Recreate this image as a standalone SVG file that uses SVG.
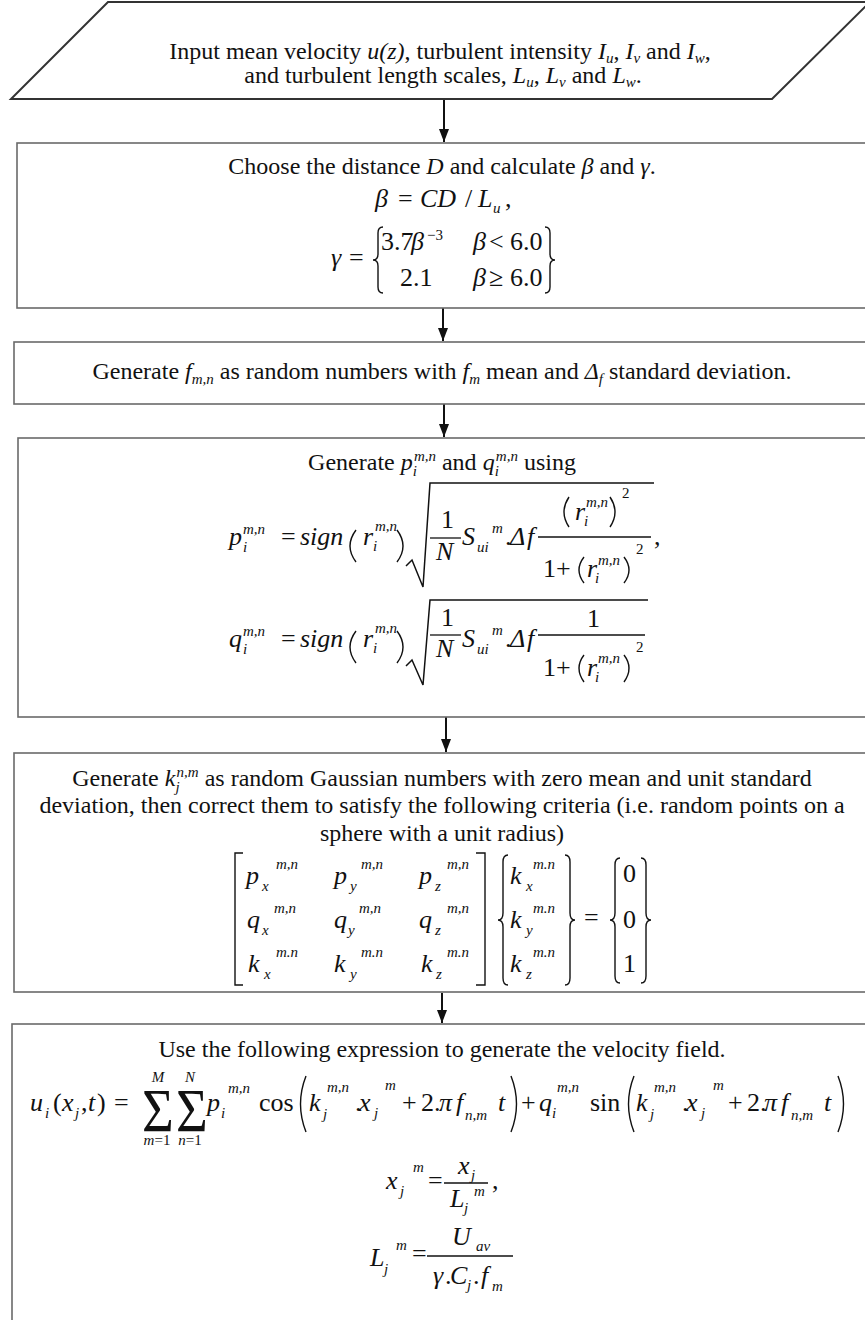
<svg xmlns="http://www.w3.org/2000/svg" width="865" height="1320" viewBox="0 0 865 1320">
<style>
.tx{font-family:"Liberation Serif","Times New Roman",serif;font-size:24px;fill:#111}
.mi{font-family:"Liberation Serif","Times New Roman",serif;font-size:26px;font-style:italic;fill:#111}
.mu{font-family:"Liberation Serif","Times New Roman",serif;font-size:26px;fill:#111}
.sig{font-family:"Liberation Serif","Times New Roman",serif;font-size:62px;fill:#111}
.sm{font-family:"Liberation Serif","Times New Roman",serif;font-size:15px;font-style:italic;fill:#111}
.smu{font-family:"Liberation Serif","Times New Roman",serif;font-size:15px;fill:#111}
.sb{font-size:15px;font-style:italic}
.s15{font-size:15px}
.it{font-style:italic}
.up{font-style:normal}
.box{fill:#fff;stroke:#6a6a6a;stroke-width:1.6}
.para{fill:#fff;stroke:#333;stroke-width:2}
.dl{fill:none;stroke:#111;stroke-width:1.4}
.bar{stroke:#111;stroke-width:1.3}
.rad{fill:none;stroke:#111;stroke-width:1.5}
.conn line{stroke:#111;stroke-width:2}
</style>
<defs>
<marker id="ah" markerUnits="userSpaceOnUse" markerWidth="13" markerHeight="10" refX="13" refY="5" orient="auto"><path d="M0,0 L13,5 L0,10 Z" fill="#111"/></marker>
</defs>
<rect width="865" height="1320" fill="#fff"/>

<g id="connectors" class="conn">
<line x1="444" y1="100" x2="444" y2="142" marker-end="url(#ah)"/>
<line x1="443" y1="308" x2="443" y2="341" marker-end="url(#ah)"/>
<line x1="444" y1="404" x2="444" y2="437" marker-end="url(#ah)"/>
<line x1="446" y1="717" x2="446" y2="752" marker-end="url(#ah)"/>
<line x1="442" y1="993" x2="442" y2="1023" marker-end="url(#ah)"/>
</g>

<g id="n1-input">
<polygon class="para" points="108,2 870,2 772,99 11,99"/>
<text class="tx" x="440" y="59" text-anchor="middle">Input mean velocity <tspan class="it">u(z)</tspan>, turbulent intensity <tspan class="it">I</tspan><tspan class="sb" dy="4">u</tspan><tspan dy="-4">, </tspan><tspan class="it">I</tspan><tspan class="sb" dy="4">v</tspan><tspan dy="-4"> and </tspan><tspan class="it">I</tspan><tspan class="sb" dy="4">w</tspan><tspan dy="-4">,</tspan></text>
<text class="tx" x="443" y="83" text-anchor="middle">and turbulent length scales, <tspan class="it">L</tspan><tspan class="sb" dy="4">u</tspan><tspan dy="-4">, </tspan><tspan class="it">L</tspan><tspan class="sb" dy="4">v</tspan><tspan dy="-4"> and </tspan><tspan class="it">L</tspan><tspan class="sb" dy="4">w</tspan><tspan dy="-4">.</tspan></text>
</g>

<g id="n2-distance">
<rect class="box" x="17" y="143" width="870" height="165"/>
<text class="tx" x="442" y="174" text-anchor="middle">Choose the distance <tspan class="it">D</tspan> and calculate <tspan class="it">β</tspan> and <tspan class="it">γ</tspan>.</text>
<text class="mi" y="207"><tspan x="375">β</tspan><tspan x="398" class="up">=</tspan><tspan x="420">CD</tspan><tspan x="465" class="up">/</tspan><tspan x="478">L</tspan><tspan x="493" y="213" class="s15">u</tspan><tspan x="505" y="207" class="up">,</tspan></text>
<text class="mi" y="266"><tspan x="331">γ</tspan><tspan x="349" class="up">=</tspan></text>
<path class="dl" d="M383,227 Q378,227 378,233 L378,254 Q378,260 373,260 Q378,260 378,266 L378,287 Q378,293 383,293"/>
<path class="dl" d="M545,227 Q550,227 550,233 L550,254 Q550,260 555,260 Q550,260 550,266 L550,287 Q550,293 545,293"/>
<text class="mu" y="250"><tspan x="381">3.7</tspan><tspan x="411" class="it">β</tspan><tspan x="427" y="240" class="s15">−3</tspan><tspan x="473" y="250" class="it">β</tspan><tspan x="489">&lt;</tspan><tspan x="510">6.0</tspan></text>
<text class="mu" y="286"><tspan x="400">2.1</tspan><tspan x="473" class="it">β</tspan><tspan x="489">≥</tspan><tspan x="510">6.0</tspan></text>
</g>

<g id="n3-frequencies">
<rect class="box" x="14" y="342" width="870" height="62"/>
<text class="tx" x="442" y="379" text-anchor="middle">Generate <tspan class="it">f</tspan><tspan class="sb" dy="5">m,n</tspan><tspan dy="-5"> as random numbers with </tspan><tspan class="it">f</tspan><tspan class="sb" dy="5">m</tspan><tspan dy="-5"> mean and </tspan><tspan class="it">Δ</tspan><tspan class="sb" dy="5">f</tspan><tspan dy="-5"> standard deviation.</tspan></text>
</g>

<g id="n4-pq">
<rect class="box" x="18" y="438" width="870" height="279"/>
<text class="tx" x="442" y="470" text-anchor="middle">Generate <tspan class="it">p</tspan><tspan class="sb" dy="6">i</tspan><tspan class="sb" dx="-3" dy="-15">m,n</tspan><tspan dy="9"> and </tspan><tspan class="it">q</tspan><tspan class="sb" dy="6">i</tspan><tspan class="sb" dx="-3" dy="-15">m,n</tspan><tspan dy="9"> using</tspan></text>
<text class="mi" y="545"><tspan x="229">p</tspan><tspan x="281" class="up">=</tspan><tspan x="300">sign</tspan><tspan x="363">r</tspan><tspan x="462">S</tspan><tspan x="505" class="up">.</tspan><tspan x="510">Δ</tspan><tspan x="527">f</tspan><tspan x="654" class="up">,</tspan></text>
<text class="sm"><tspan x="243" y="534">m,n</tspan><tspan x="243" y="552">i</tspan><tspan x="375" y="531">m,n</tspan><tspan x="373" y="551">i</tspan><tspan x="477" y="552">ui</tspan><tspan x="492" y="533">m</tspan></text>
<path class="dl" d="M356,530 Q344,546 356,562"/><path class="dl" d="M397,530 Q409,546 397,562"/>
<path class="rad" d="M406,566 L412,560 L423,587 L430,483 H654"/>
<text class="mu" x="441" y="528">1</text>
<text class="mi" x="436" y="560">N</text>
<line class="bar" x1="430" y1="538" x2="461" y2="538"/>
<line class="bar" x1="538" y1="537" x2="651" y2="537"/>
<path class="dl" d="M569,497 Q559,512 569,527"/><path class="dl" d="M610,497 Q620,512 610,527"/>
<text class="mi" x="575" y="520">r</text>
<text class="sm"><tspan x="586" y="507">m,n</tspan><tspan x="584" y="526">i</tspan></text>
<text class="smu" x="622" y="498">2</text>
<text class="mu" y="577"><tspan x="543">1</tspan><tspan x="556">+</tspan><tspan x="587" class="it">r</tspan></text>
<path class="dl" d="M584,557 Q574,570 584,583"/><path class="dl" d="M624,557 Q634,570 624,583"/>
<text class="sm"><tspan x="598" y="565">m,n</tspan><tspan x="595" y="583">i</tspan></text>
<text class="smu" x="636" y="554">2</text>
<text class="mi" y="647"><tspan x="229">q</tspan><tspan x="281" class="up">=</tspan><tspan x="300">sign</tspan><tspan x="363">r</tspan><tspan x="462">S</tspan><tspan x="505" class="up">.</tspan><tspan x="510">Δ</tspan><tspan x="527">f</tspan></text>
<text class="sm"><tspan x="243" y="636">m,n</tspan><tspan x="243" y="654">i</tspan><tspan x="375" y="633">m,n</tspan><tspan x="373" y="653">i</tspan><tspan x="477" y="654">ui</tspan><tspan x="492" y="635">m</tspan></text>
<path class="dl" d="M356,631 Q344,647 356,663"/><path class="dl" d="M397,631 Q409,647 397,663"/>
<path class="rad" d="M406,666 L412,660 L423,685 L430,600 H648"/>
<text class="mu" x="441" y="626">1</text>
<text class="mi" x="436" y="657">N</text>
<line class="bar" x1="430" y1="635" x2="461" y2="635"/>
<line class="bar" x1="538" y1="635" x2="645" y2="635"/>
<text class="mu" x="587" y="627">1</text>
<text class="mu" y="676"><tspan x="543">1</tspan><tspan x="556">+</tspan><tspan x="587" class="it">r</tspan></text>
<path class="dl" d="M584,655 Q574,668 584,682"/><path class="dl" d="M624,655 Q634,668 624,682"/>
<text class="sm"><tspan x="598" y="663">m,n</tspan><tspan x="595" y="682">i</tspan></text>
<text class="smu" x="636" y="652">2</text>
</g>

<g id="n5-k">
<rect class="box" x="14" y="753" width="870" height="239"/>
<text class="tx" x="442" y="786" text-anchor="middle">Generate <tspan class="it">k</tspan><tspan class="sb" dy="6">j</tspan><tspan class="sb" dx="-3" dy="-15">n,m</tspan><tspan dy="9"> as random Gaussian numbers with zero mean and unit standard</tspan></text>
<text class="tx" x="442" y="813" text-anchor="middle">deviation, then correct them to satisfy the following criteria (i.e. random points on a</text>
<text class="tx" x="442" y="841" text-anchor="middle">sphere with a unit radius)</text>
<path class="dl" d="M243,853 H235 V985 H243"/>
<path class="dl" d="M476,853 H485 V985 H476"/>
<path class="dl" d="M508,855 Q503,855 503,862 L503,913 Q503,920 498,920 Q503,920 503,927 L503,978 Q503,985 508,985"/>
<path class="dl" d="M565,855 Q570,855 570,862 L570,913 Q570,920 575,920 Q570,920 570,927 L570,978 Q570,985 565,985"/>
<path class="dl" d="M620,858 Q615,858 615,865 L615,913 Q615,920 610,920 Q615,920 615,927 L615,976 Q615,983 620,983"/>
<path class="dl" d="M641,858 Q646,858 646,865 L646,913 Q646,920 651,920 Q646,920 646,927 L646,976 Q646,983 641,983"/>
<text class="mi"><tspan x="246" y="884">p</tspan><tspan x="334">p</tspan><tspan x="419">p</tspan><tspan x="247" y="928">q</tspan><tspan x="334">q</tspan><tspan x="419">q</tspan><tspan x="248" y="972">k</tspan><tspan x="334">k</tspan><tspan x="421">k</tspan><tspan x="510" y="884">k</tspan><tspan x="510" y="928">k</tspan><tspan x="510" y="972">k</tspan></text>
<text class="sm"><tspan x="262" y="891">x</tspan><tspan x="350">y</tspan><tspan x="435">z</tspan><tspan x="262" y="935">x</tspan><tspan x="348">y</tspan><tspan x="435">z</tspan><tspan x="264" y="979">x</tspan><tspan x="350">y</tspan><tspan x="436">z</tspan><tspan x="526" y="891">x</tspan><tspan x="526" y="935">y</tspan><tspan x="526" y="979">z</tspan></text>
<text class="sm"><tspan x="276" y="869">m,n</tspan><tspan x="361">m,n</tspan><tspan x="447">m,n</tspan><tspan x="274" y="913">m,n</tspan><tspan x="359">m,n</tspan><tspan x="447">m,n</tspan><tspan x="276" y="957">m.n</tspan><tspan x="361">m.n</tspan><tspan x="447">m.n</tspan><tspan x="533" y="869">m.n</tspan><tspan x="533" y="913">m.n</tspan><tspan x="533" y="957">m.n</tspan></text>
<text class="mu" x="584" y="926">=</text>
<text class="mu"><tspan x="623" y="882">0</tspan><tspan x="623" y="928">0</tspan><tspan x="623" y="972">1</tspan></text>
</g>

<g id="n6-velocity">
<rect class="box" x="12" y="1024" width="870" height="320"/>
<text class="tx" x="442" y="1057" text-anchor="middle">Use the following expression to generate the velocity field.</text>
<text class="mi" y="1111"><tspan x="30">u</tspan><tspan x="53" class="up">(</tspan><tspan x="62">x</tspan><tspan x="81" class="up">,</tspan><tspan x="88">t</tspan><tspan x="97" class="up">)</tspan><tspan x="114" class="up">=</tspan><tspan x="207">p</tspan><tspan x="259" class="up">cos</tspan><tspan x="309">k</tspan><tspan x="355" class="up">.</tspan><tspan x="359">x</tspan><tspan x="402" class="up">+</tspan><tspan x="421" class="up">2</tspan><tspan x="434" class="up">.</tspan><tspan x="439">π</tspan><tspan x="456">f</tspan><tspan x="498">t</tspan><tspan x="521" class="up">+</tspan><tspan x="539">q</tspan><tspan x="590" class="up">sin</tspan><tspan x="636">k</tspan><tspan x="682" class="up">.</tspan><tspan x="686">x</tspan><tspan x="728" class="up">+</tspan><tspan x="747" class="up">2</tspan><tspan x="760" class="up">.</tspan><tspan x="764">π</tspan><tspan x="781">f</tspan><tspan x="824">t</tspan></text>
<text class="sm"><tspan x="45" y="1118">i</tspan><tspan x="75" y="1118">j</tspan><tspan x="221" y="1118">i</tspan><tspan x="228" y="1093">m,n</tspan><tspan x="323" y="1119">j</tspan><tspan x="327" y="1092">m,n</tspan><tspan x="374" y="1118">j</tspan><tspan x="385" y="1090">m</tspan><tspan x="465" y="1120">n,m</tspan><tspan x="552" y="1118">i</tspan><tspan x="557" y="1092">m,n</tspan><tspan x="650" y="1119">j</tspan><tspan x="654" y="1092">m,n</tspan><tspan x="701" y="1118">j</tspan><tspan x="713" y="1090">m</tspan><tspan x="791" y="1120">n,m</tspan></text>
<text class="sig" transform="translate(142,1131) scale(0.88,1)" x="0" y="0">Σ</text>
<text class="sig" transform="translate(176,1131) scale(0.88,1)" x="0" y="0">Σ</text>
<text class="sm" text-anchor="middle"><tspan x="158" y="1082">M</tspan><tspan x="190" y="1082">N</tspan></text>
<text class="sm" text-anchor="middle" x="157" y="1145">m<tspan class="up">=1</tspan></text>
<text class="sm" text-anchor="middle" x="190" y="1145">n<tspan class="up">=1</tspan></text>
<path class="dl" d="M306,1076 Q295,1104 306,1132"/><path class="dl" d="M511,1076 Q522,1104 511,1132"/>
<path class="dl" d="M634,1076 Q623,1104 634,1132"/><path class="dl" d="M838,1076 Q849,1104 838,1132"/>
<text class="mi"><tspan x="386" y="1189">x</tspan><tspan x="428" class="up">=</tspan><tspan x="458" y="1174">x</tspan><tspan x="450" y="1207">L</tspan><tspan x="492" y="1189" class="up">,</tspan></text>
<text class="sm"><tspan x="400" y="1196">j</tspan><tspan x="413" y="1172">m</tspan><tspan x="471" y="1180">j</tspan><tspan x="464" y="1213">j</tspan><tspan x="474" y="1196">m</tspan></text>
<line class="bar" x1="444" y1="1183" x2="488" y2="1183"/>
<text class="mi"><tspan x="370" y="1266">L</tspan><tspan x="412" y="1262" class="up">=</tspan><tspan x="452" y="1245">U</tspan><tspan x="433" y="1284">γ</tspan><tspan x="445" class="up">.</tspan><tspan x="450">C</tspan><tspan x="473" class="up">.</tspan><tspan x="481">f</tspan></text>
<text class="sm"><tspan x="384" y="1274">j</tspan><tspan x="396" y="1250">m</tspan><tspan x="476" y="1251">av</tspan><tspan x="467" y="1290">j</tspan><tspan x="492" y="1291">m</tspan></text>
<line class="bar" x1="427" y1="1256" x2="513" y2="1256"/>
</g>
</svg>
